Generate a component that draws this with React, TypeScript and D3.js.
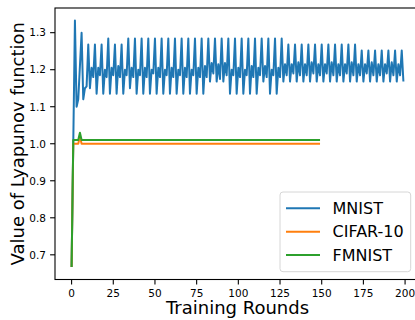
import React from 'react';
import * as d3 from 'd3';

// values
const mnist = [
  0.667, 1.0, 1.333, 1.10, 1.12, 1.21, 1.30, 1.12, 1.15, 1.155,
  1.268, 1.15, 1.205, 1.18, 1.268, 1.135, 1.205, 1.185, 1.268, 1.135,
  1.2, 1.18, 1.284, 1.135, 1.205, 1.185, 1.268, 1.135, 1.21, 1.18,
  1.268, 1.135, 1.2, 1.185, 1.284, 1.15, 1.205, 1.18, 1.284, 1.135,
  1.2, 1.185, 1.284, 1.135, 1.205, 1.18, 1.284, 1.135, 1.2, 1.19,
  1.284, 1.135, 1.205, 1.18, 1.284, 1.135, 1.2, 1.185, 1.284, 1.135,
  1.205, 1.18, 1.284, 1.135, 1.2, 1.185, 1.284, 1.135, 1.205, 1.18,
  1.284, 1.135, 1.2, 1.185, 1.284, 1.135, 1.205, 1.18, 1.284, 1.135,
  1.21, 1.18, 1.284, 1.168, 1.218, 1.19, 1.284, 1.168, 1.215, 1.175,
  1.284, 1.168, 1.218, 1.185, 1.284, 1.135, 1.2, 1.185, 1.284, 1.135,
  1.205, 1.18, 1.284, 1.135, 1.2, 1.185, 1.284, 1.135, 1.21, 1.18,
  1.284, 1.135, 1.205, 1.185, 1.284, 1.168, 1.21, 1.18, 1.284, 1.135,
  1.2, 1.185, 1.284, 1.135, 1.205, 1.18, 1.284, 1.168, 1.215, 1.185,
  1.268, 1.168, 1.215, 1.19, 1.268, 1.168, 1.22, 1.185, 1.268, 1.168,
  1.215, 1.185, 1.268, 1.168, 1.22, 1.19, 1.268, 1.168, 1.215, 1.185,
  1.268, 1.168, 1.215, 1.19, 1.268, 1.168, 1.22, 1.185, 1.268, 1.168,
  1.215, 1.185, 1.268, 1.168, 1.215, 1.19, 1.268, 1.168, 1.22, 1.185,
  1.268, 1.168, 1.215, 1.185, 1.252, 1.168, 1.215, 1.19, 1.252, 1.168,
  1.22, 1.185, 1.252, 1.168, 1.215, 1.185, 1.252, 1.168, 1.215, 1.19,
  1.252, 1.168, 1.22, 1.185, 1.252, 1.168, 1.215, 1.185, 1.252, 1.168,
];

const cifar = [
  0.667, 1.0, 1.0, 1.0, 1.0, 1.02, 1.0, 1.0, 1.0, 1.0,
  1.0, 1.0, 1.0, 1.0, 1.0, 1.0, 1.0, 1.0, 1.0, 1.0,
  1.0, 1.0, 1.0, 1.0, 1.0, 1.0, 1.0, 1.0, 1.0, 1.0,
  1.0, 1.0, 1.0, 1.0, 1.0, 1.0, 1.0, 1.0, 1.0, 1.0,
  1.0, 1.0, 1.0, 1.0, 1.0, 1.0, 1.0, 1.0, 1.0, 1.0,
  1.0, 1.0, 1.0, 1.0, 1.0, 1.0, 1.0, 1.0, 1.0, 1.0,
  1.0, 1.0, 1.0, 1.0, 1.0, 1.0, 1.0, 1.0, 1.0, 1.0,
  1.0, 1.0, 1.0, 1.0, 1.0, 1.0, 1.0, 1.0, 1.0, 1.0,
  1.0, 1.0, 1.0, 1.0, 1.0, 1.0, 1.0, 1.0, 1.0, 1.0,
  1.0, 1.0, 1.0, 1.0, 1.0, 1.0, 1.0, 1.0, 1.0, 1.0,
  1.0, 1.0, 1.0, 1.0, 1.0, 1.0, 1.0, 1.0, 1.0, 1.0,
  1.0, 1.0, 1.0, 1.0, 1.0, 1.0, 1.0, 1.0, 1.0, 1.0,
  1.0, 1.0, 1.0, 1.0, 1.0, 1.0, 1.0, 1.0, 1.0, 1.0,
  1.0, 1.0, 1.0, 1.0, 1.0, 1.0, 1.0, 1.0, 1.0, 1.0,
  1.0, 1.0, 1.0, 1.0, 1.0, 1.0, 1.0, 1.0, 1.0, 1.0,
];

const fmnist = [
  0.667, 1.01, 1.01, 1.01, 1.01, 1.03, 1.01, 1.01, 1.01, 1.01,
  1.01, 1.01, 1.01, 1.01, 1.01, 1.01, 1.01, 1.01, 1.01, 1.01,
  1.01, 1.01, 1.01, 1.01, 1.01, 1.01, 1.01, 1.01, 1.01, 1.01,
  1.01, 1.01, 1.01, 1.01, 1.01, 1.01, 1.01, 1.01, 1.01, 1.01,
  1.01, 1.01, 1.01, 1.01, 1.01, 1.01, 1.01, 1.01, 1.01, 1.01,
  1.01, 1.01, 1.01, 1.01, 1.01, 1.01, 1.01, 1.01, 1.01, 1.01,
  1.01, 1.01, 1.01, 1.01, 1.01, 1.01, 1.01, 1.01, 1.01, 1.01,
  1.01, 1.01, 1.01, 1.01, 1.01, 1.01, 1.01, 1.01, 1.01, 1.01,
  1.01, 1.01, 1.01, 1.01, 1.01, 1.01, 1.01, 1.01, 1.01, 1.01,
  1.01, 1.01, 1.01, 1.01, 1.01, 1.01, 1.01, 1.01, 1.01, 1.01,
  1.01, 1.01, 1.01, 1.01, 1.01, 1.01, 1.01, 1.01, 1.01, 1.01,
  1.01, 1.01, 1.01, 1.01, 1.01, 1.01, 1.01, 1.01, 1.01, 1.01,
  1.01, 1.01, 1.01, 1.01, 1.01, 1.01, 1.01, 1.01, 1.01, 1.01,
  1.01, 1.01, 1.01, 1.01, 1.01, 1.01, 1.01, 1.01, 1.01, 1.01,
  1.01, 1.01, 1.01, 1.01, 1.01, 1.01, 1.01, 1.01, 1.01, 1.01,
];

const seriesNames = ['MNIST', 'CIFAR-10', 'FMNIST'];
const seriesColors = ['#1f77b4', '#ff7f0e', '#2ca02c'];
const xTicks = [0, 25, 50, 75, 100, 125, 150, 175, 200];
const yTicks = [0.7, 0.8, 0.9, 1.0, 1.1, 1.2, 1.3];

const W = 415;
const H = 320;
const font = '"DejaVu Sans", sans-serif';

const App = () => {
  const left = 55, right = 420, top = 8, bottom = 279.5;

  const x = d3.scaleLinear().domain([-9.95, 208.95]).range([left, right]);
  const y = d3.scaleLinear().domain([0.63333, 1.36667]).range([bottom, top]);

  const line = d3.line<number>()
    .x((d, i) => x(i))
    .y(d => y(d));

  const series = [mnist, cifar, fmnist];

  // legend box
  const lg = { x0: 280, x1: 410.7, y0: 192, y1: 271.7 };
  const rowY = [208.3, 231.7, 255];

  return (
    <svg width={W} height={H} style={{ position: 'absolute', left: 0, top: 0, background: '#fff' }}
      fontFamily={font}>
      <rect x={0} y={0} width={W} height={H} fill="#fff" />

      {series.map((s, k) => (
        <path key={k} d={line(s) || ''} fill="none" stroke={seriesColors[k]}
          strokeWidth={2} strokeLinejoin="round" strokeLinecap="butt" />
      ))}

      {/* spines */}
      <rect x={left} y={top} width={right - left} height={bottom - top}
        fill="none" stroke="#000" strokeWidth={1.1} />

      {/* x axis */}
      {xTicks.map(t => (
        <g key={t}>
          <line x1={x(t)} x2={x(t)} y1={bottom} y2={bottom + 4.9} stroke="#000" strokeWidth={1.1} />
          <text x={x(t)} y={296.5} textAnchor="middle" fontSize={10.5} fill="#000">{t}</text>
        </g>
      ))}

      {/* y axis */}
      {yTicks.map(t => (
        <g key={t}>
          <line x1={left - 4.9} x2={left} y1={y(t)} y2={y(t)} stroke="#000" strokeWidth={1.1} />
          <text x={left - 9} y={y(t)} dy="0.36em" textAnchor="end" fontSize={10.5} fill="#000">
            {t.toFixed(1)}
          </text>
        </g>
      ))}

      <text x={(left + right) / 2} y={314} textAnchor="middle" fontSize={18} fill="#000">
        Training Rounds
      </text>
      <text transform={`translate(24,${(top + bottom) / 2}) rotate(-90)`} textAnchor="middle"
        fontSize={18} fill="#000">
        Value of Lyapunov function
      </text>

      {/* legend */}
      <rect x={lg.x0} y={lg.y0} width={lg.x1 - lg.x0} height={lg.y1 - lg.y0} rx={3}
        fill="#fff" fillOpacity={0.8} stroke="#d6d6d6" strokeWidth={1} />
      {seriesNames.map((n, k) => (
        <g key={n}>
          <line x1={286} x2={320} y1={rowY[k]} y2={rowY[k]} stroke={seriesColors[k]} strokeWidth={2} />
          <text x={332.5} y={rowY[k]} dy="0.36em" fontSize={16} fill="#000">{n}</text>
        </g>
      ))}
    </svg>
  );
};

export default App;
